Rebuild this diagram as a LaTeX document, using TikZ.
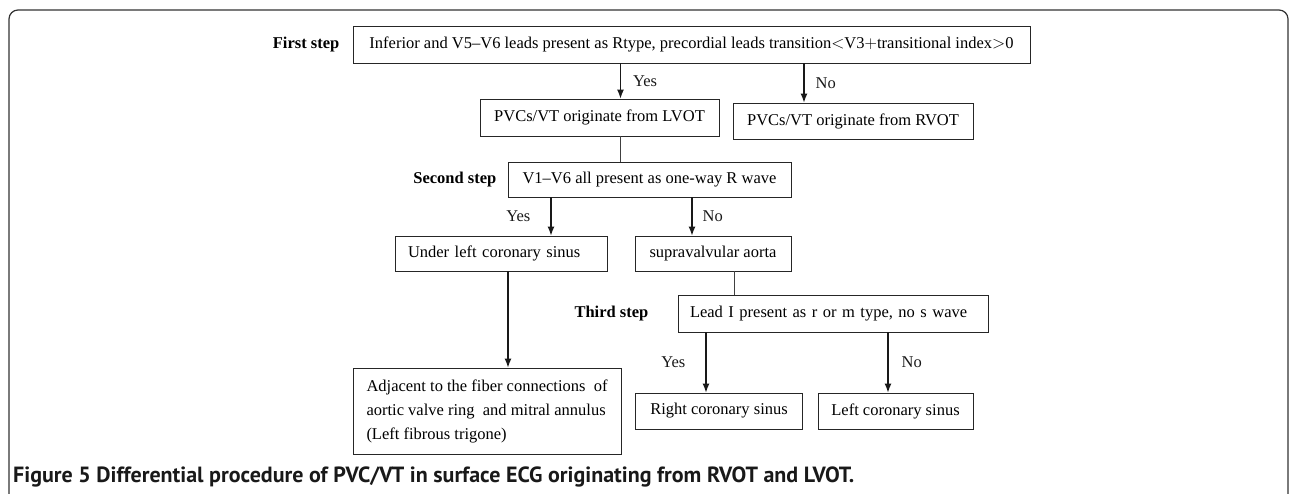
\documentclass[tikz,border=0pt]{standalone}
\usepackage{fontspec}
\setmainfont{Liberation Serif}
\newfontfamily\captionfont{PT Sans}
\usepackage{tikz}
\usetikzlibrary{arrows.meta,positioning,calc}
\tikzstyle{block} = [draw=black!85, rectangle, line width=0.9pt, inner sep=0pt,
    font=\fontsize{16.5}{24}\selectfont]
\tikzstyle{stage} = [inner sep=0pt, font=\bfseries\fontsize{16.5}{20}\selectfont]
\tikzstyle{answer} = [inner sep=0pt, font=\fontsize{16.5}{20}\selectfont]
\tikzstyle{coord} = [coordinate]
\tikzstyle{connector} = [->, line width=1.2pt, black!90]
\tikzstyle{link} = [line width=0.8pt, black!75]

\begin{document}
\begin{tikzpicture}[x=1pt, y=-1pt, >={Latex[length=9pt,width=7pt]}]
    \useasboundingbox (0,0) rectangle (1290,494);
    \draw [rounded corners=9pt, line width=1.2pt, black!80] (9,494) -- (9,10) -- (1288,10) -- (1288,494);

    % first step
    \node (first) [block, minimum width=677, minimum height=37] at (691.5,44.5)
        {Inferior and V5--V6 leads present as Rtype, precordial leads transition$<$V3$+$transitional index$>$0};
    \node (firstlbl) [stage, left=13pt of first] {First step};
    \node (lvot) [block, minimum width=239, minimum height=37] at (599.5,117.5) {PVCs/VT originate from LVOT};
    \node (rvot) [block, minimum width=240, minimum height=36] at (853,121) {PVCs/VT originate from RVOT};

    % second step
    \node (second) [block, minimum width=283, minimum height=35] at (649.5,179.5) {V1--V6 all present as one-way R wave};
    \node (secondlbl) [stage, left=11pt of second] {Second step};
    \node (under) [block, text width=186, inner xsep=13pt, minimum height=35, align=left] at (501,253.5) {Under left coronary sinus};
    \node (supra) [block, minimum width=156, minimum height=35] at (713,253.5) {supravalvular aorta};
    \node (adj) [block, minimum width=268, minimum height=86, align=left] at (487,411)
        {Adjacent to the fiber connections\ \ of\\aortic valve ring\ \ and mitral annulus\\(Left fibrous trigone)};

    % third step
    \node (leadI) [block, text width=286, inner xsep=12pt, minimum height=37, align=left] at (833,313.5)
        {Lead I present as r or m type, no s wave};
    \node (thirdlbl) [stage, left=29pt of leadI] {Third step};
    \node (rcs) [block, minimum width=167, minimum height=36] at (719,411) {Right coronary sinus};
    \node (lcs) [block, minimum width=155, minimum height=36] at (895.5,411) {Left coronary sinus};

    \coordinate (yes1) at ([xshift=21]lvot.north);
    \coordinate (no1) at ([xshift=-49]rvot.north);
    \coordinate (yes2) at ([xshift=50]under.north);
    \coordinate (no2) at ([xshift=-21]supra.north);
    \coordinate (down1) at ([xshift=7]under.south);
    \coordinate (down2) at ([xshift=21]supra.south);
    \coordinate (yes3) at ([xshift=-13]rcs.north);
    \coordinate (no3) at ([xshift=-7.5]lcs.north);

    \draw [connector] (first.south -| yes1) -- node [answer, right=12pt] {Yes} (yes1);
    \draw [connector] (first.south -| no1) -- node [answer, right=11pt] {No} (no1);
    \draw [link] (yes1 |- lvot.south) -- (yes1 |- second.north);
    \draw [connector] (second.south -| yes2) -- node [answer, left=20pt] {Yes} (yes2);
    \draw [connector] (second.south -| no2) -- node [answer, right=10pt] {No} (no2);
    \draw [connector] (down1) -- (down1 |- adj.north);
    \draw [link] (down2) -- (down2 |- leadI.north);
    \draw [connector] (leadI.south -| yes3) -- node [answer, left=20pt] {Yes} (yes3);
    \draw [connector] (leadI.south -| no3) -- node [answer, right=13pt] {No} (no3);

    \node (caption) [anchor=west, inner sep=0pt, black!90, font=\captionfont\bfseries\fontsize{22}{24}\selectfont] at (13,477)
        {Figure 5 Differential procedure of PVC/VT in surface ECG originating from RVOT and LVOT.};
\end{tikzpicture}
\end{document}
